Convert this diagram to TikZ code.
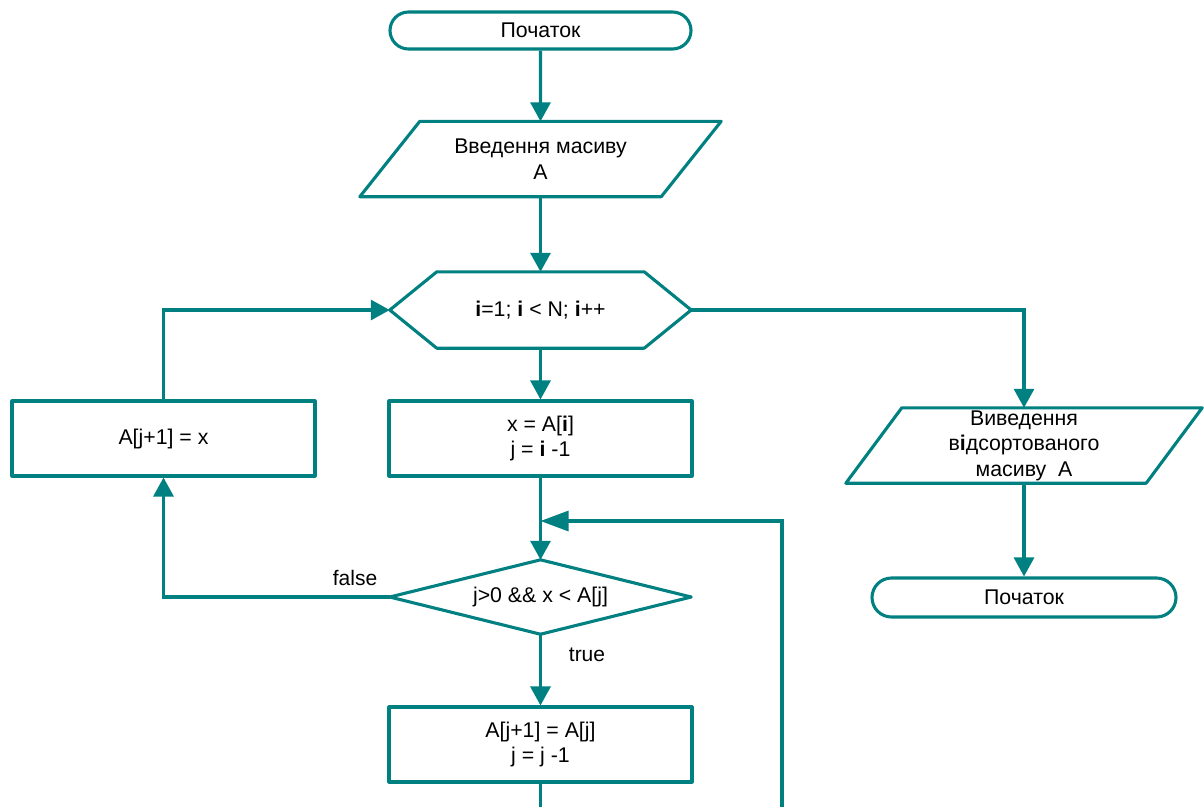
\documentclass[tikz,border=0pt]{standalone}
\usepackage{fontspec}
\setmainfont{Liberation Sans}
\usetikzlibrary{arrows.meta,calc,shapes.misc}
\definecolor{flow}{RGB}{0,128,128}
\newcommand{\bi}{\textbf{i}}
\newcommand{\bci}{\textbf{і}}
\begin{document}
\begin{tikzpicture}[x=1pt,y=-1pt,
  every node/.style={font=\fontsize{21.3}{25.5}\selectfont, align=center, inner sep=0pt},
  outline/.style={draw=flow, line width=3.1pt, line join=round},
  conn/.style={draw=flow, line width=3.1pt},
  arr/.style={conn, -{Triangle[length=19pt,width=20pt]}},
  terminal/.style={rounded rectangle, outline, minimum width=301pt, minimum height=37pt},
  procbox/.style={rectangle, outline, minimum width=303pt, minimum height=75pt},
  frame/.style={rectangle, minimum width=301pt, minimum height=75pt},
  lbl/.style={font=\fontsize{21}{24}\selectfont}]
\useasboundingbox (0,0) rectangle (1204,807);

% start
\node[terminal] (start) at (540.5,30.5) {Початок};

% input of the array
\node[frame] (inp) at (540.5,159) {Введення масиву\\A};
\draw[outline] ($(inp.north west)+(30,0)$) -- ($(inp.north east)+(30,0)$)
  -- ($(inp.south east)+(-30,0)$) -- ($(inp.south west)+(-30,0)$) -- cycle;

% outer loop header
\node[frame, minimum height=76pt] (loop) at (540.5,310) {\bi=1; \bi{} < N; \bi++};
\draw[outline] (loop.west) -- ($(loop.north west)+(47,0)$) -- ($(loop.north east)+(-47,0)$)
  -- (loop.east) -- ($(loop.south east)+(-47,0)$) -- ($(loop.south west)+(47,0)$) -- cycle;

% loop body
\node[procbox] (init) at (540.5,438.5) {x = A[\bi]\\j = \bi{} -1};
\node[procbox] (store) at (163.5,438.5) {A[j+1] = x};

% inner condition
\node[frame, minimum height=74pt] (cond) at (540.5,597) {j>0 \&\& x < A[j]};
\draw[outline] (cond.west) -- (cond.north) -- (cond.east) -- (cond.south) -- cycle;

\node[procbox] (shift) at (540.5,744.5) {A[j+1] = A[j]\\j = j -1};

% output of the sorted array
\node[frame, minimum width=300pt] (outp) at (1024,445.5) {Виведення\\в\bci дсортованого\\масиву\ \ A};
\draw[outline] ($(outp.north west)+(28,0)$) -- ($(outp.north east)+(28,0)$)
  -- ($(outp.south east)+(-28,0)$) -- ($(outp.south west)+(-28,0)$) -- cycle;

\node[terminal, minimum height=39pt, minimum width=304pt] (stop) at (1024,597.5) {Початок};

% labels
\node[lbl] (lfalse) at (355,578) {false};
\node[lbl] (ltrue) at (587,655) {true};

% connectors
\coordinate (merge) at (540.5,521);
\coordinate (shiftout) at (540.5,807);
\coordinate (backin) at (782,807);

\draw[arr] (start) -- (inp);
\draw[arr] (inp) -- (loop);
\draw[arr] (loop) -- (init);
\draw[arr] (init) -- (cond);
\draw[conn] (shift) -- (shiftout);
\draw[conn, -{Triangle[length=28pt,width=20pt]}] (backin) |- (merge);
\draw[arr] (cond.west) -| (store);
\draw[arr] (store) |- (loop.west);
\draw[arr] (cond) -- (shift);
\draw[arr] (loop.east) -| (outp.north);
\draw[arr] (outp) -- (stop);
\end{tikzpicture}
\end{document}
